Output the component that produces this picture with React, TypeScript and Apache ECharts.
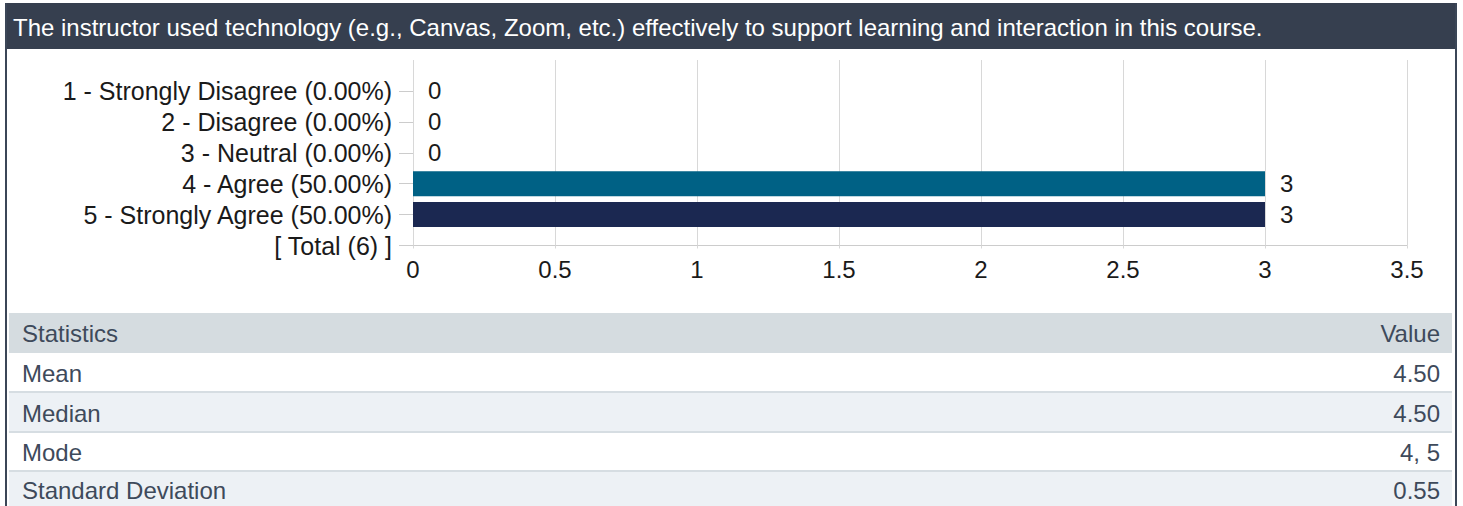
import React, { useEffect, useRef } from "react";
import * as echarts from "echarts";

const title =
  "The instructor used technology (e.g., Canvas, Zoom, etc.) effectively to support learning and interaction in this course.";
const categories = [
  "",
  "1 - Strongly Disagree (0.00%)",
  "2 - Disagree (0.00%)",
  "3 - Neutral (0.00%)",
  "4 - Agree (50.00%)",
  "5 - Strongly Agree (50.00%)",
  "[ Total (6) ]",
];
const counts: (number | string)[] = ["-", 0, 0, 0, 3, 3, "-"];
const barColors = ["#006185", "#006185", "#006185", "#006185", "#006185", "#1b2851", "#1b2851"];
const xMin = 0;
const xMax = 3.5;
const xStep = 0.5;
const statHeader = ["Statistics", "Value"];
const statLabels = ["Mean", "Median", "Mode", "Standard Deviation"];
const statValues = ["4.50", "4.50", "4, 5", "0.55"];

const FONT = '"Liberation Sans", Arial, sans-serif';

export default function App() {
  const ref = useRef<HTMLDivElement>(null);
  useEffect(() => {
    if (!ref.current) return;
    const chart = echarts.init(ref.current, undefined, { renderer: "svg" });

    const rowTops = [353, 393, 433, 472];
    const rowBottoms = [392, 431, 470, 506];
    const tableLeft = 9;
    const tableRight = 1452;
    const graphics: any[] = [
      { type: "rect", shape: { x: 5, y: 3, width: 1452, height: 46 }, style: { fill: "#363f4f" } },
      {
        type: "text",
        x: 13,
        y: 27,
        style: { text: title, fill: "#ffffff", font: `24px ${FONT}`, textVerticalAlign: "middle" },
      },
      { type: "rect", shape: { x: 5, y: 3, width: 2, height: 503 }, style: { fill: "#3b4657" } },
      { type: "rect", shape: { x: 1455, y: 3, width: 2, height: 503 }, style: { fill: "#3b4657" } },
      { type: "rect", shape: { x: tableLeft, y: 313, width: tableRight - tableLeft, height: 40 }, style: { fill: "#d5dce0" } },
      {
        type: "text",
        x: 22,
        y: 333,
        style: { text: statHeader[0], fill: "#3e4a5b", font: `24px ${FONT}`, textVerticalAlign: "middle" },
      },
      {
        type: "text",
        x: 1440,
        y: 333,
        style: { text: statHeader[1], fill: "#3e4a5b", font: `24px ${FONT}`, textVerticalAlign: "middle", textAlign: "right" },
      },
    ];
    statLabels.forEach((lab, i) => {
      const top = rowTops[i];
      const bottom = rowBottoms[i];
      graphics.push({
        type: "rect",
        shape: { x: tableLeft, y: top, width: tableRight - tableLeft, height: bottom - top },
        style: { fill: i % 2 === 1 ? "#edf1f5" : "#ffffff" },
      });
      if (i > 0) {
        graphics.push({
          type: "rect",
          shape: { x: tableLeft, y: top - 2, width: tableRight - tableLeft, height: 2 },
          style: { fill: "#d6dde2" },
        });
      }
      const cy = (top + bottom) / 2 + 1;
      graphics.push({
        type: "text",
        x: 22,
        y: cy,
        style: { text: lab, fill: "#3e4a5b", font: `24px ${FONT}`, textVerticalAlign: "middle" },
      });
      graphics.push({
        type: "text",
        x: 1440,
        y: cy,
        style: { text: statValues[i], fill: "#3e4a5b", font: `24px ${FONT}`, textVerticalAlign: "middle", textAlign: "right" },
      });
    });

    chart.setOption({
      animation: false,
      backgroundColor: "#ffffff",
      textStyle: { fontFamily: FONT },
      grid: { left: 413, right: 56, top: 60, bottom: 260.5, containLabel: false },
      xAxis: {
        type: "value",
        min: xMin,
        max: xMax,
        interval: xStep,
        axisLine: { show: true, lineStyle: { color: "#cccccc", width: 1 } },
        axisTick: { show: true, length: 3, lineStyle: { color: "#d8d8d8" } },
        splitLine: { show: true, lineStyle: { color: "#d8d8d8", width: 1 } },
        axisLabel: { fontSize: 24, color: "#1a1a1a", margin: 12, fontFamily: FONT },
      },
      yAxis: {
        type: "category",
        data: categories,
        inverse: true,
        boundaryGap: false,
        axisLine: { show: false },
        axisTick: {
          show: true,
          length: 14,
          interval: (i: number) => i !== 0,
          lineStyle: { color: "#cccccc" },
        },
        splitLine: { show: false },
        axisLabel: {
          fontSize: 25,
          color: "#1a1a1a",
          margin: 21,
          fontFamily: FONT,
          interval: 0,
          padding: [0, 0, 4, 0],
        },
      },
      graphic: graphics,
      series: [
        {
          type: "bar",
          data: counts.map((v, i) => ({ value: v, itemStyle: { color: barColors[i] } })),
          barWidth: 25,
          label: {
            show: true,
            position: "right",
            distance: 15,
            fontSize: 24,
            color: "#1a1a1a",
            fontFamily: FONT,
          },
        },
      ],
    });
    return () => chart.dispose();
  }, []);
  return (
    <div
      ref={ref}
      style={{ position: "fixed", left: 0, top: 0, width: 1463, height: 506 }}
    />
  );
}
